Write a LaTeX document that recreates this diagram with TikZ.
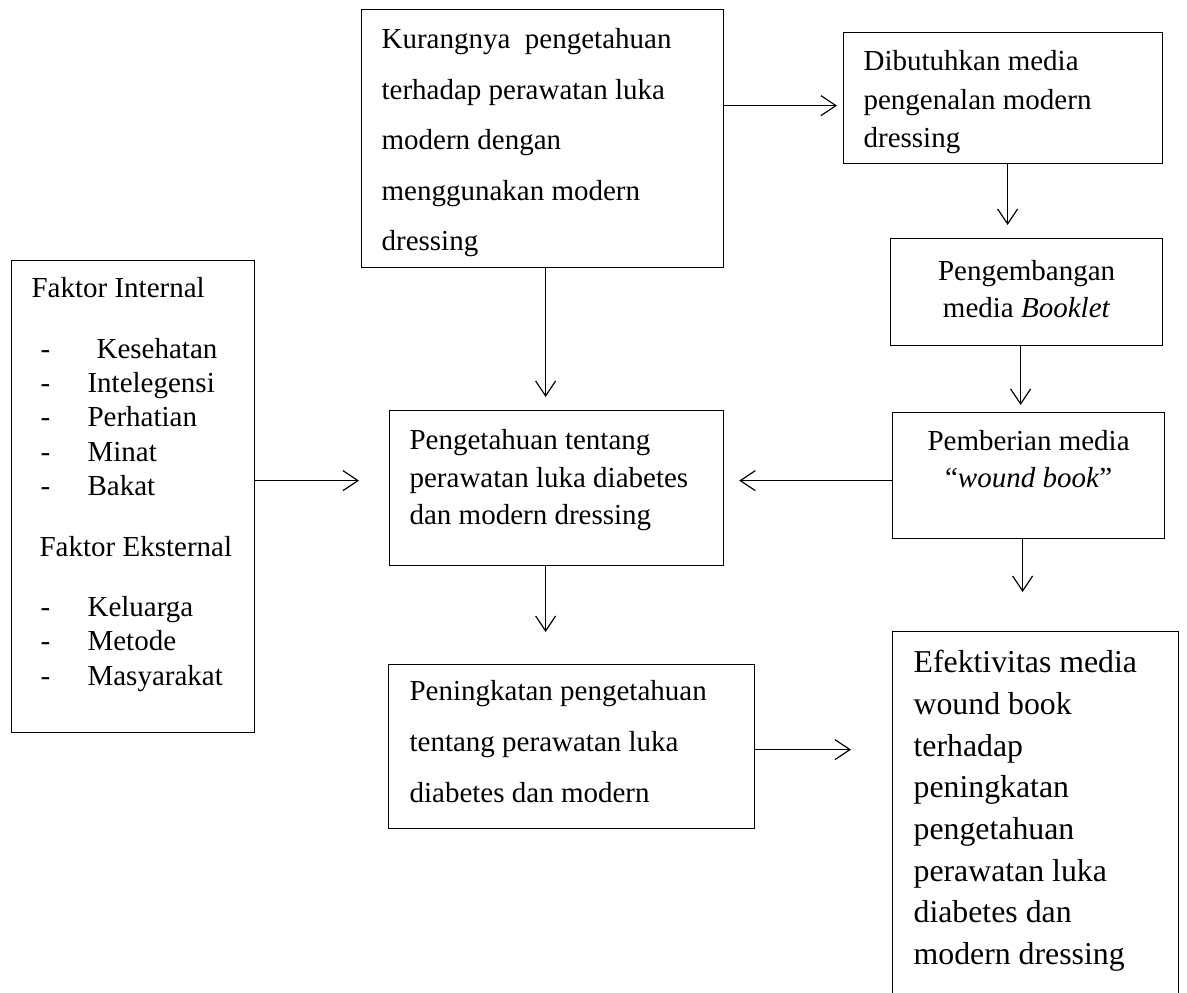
\documentclass[tikz,border=0pt]{standalone}
\usepackage{fontspec}
\setmainfont{Liberation Serif}
\usepackage{tikz}
\usetikzlibrary{arrows.meta}
\tikzset{
    flow-box/.style = {draw=black, fill=white, line width=0.6pt, rectangle, anchor=north west, inner xsep=10pt, inner ysep=0pt},
    flow-text/.style = {font=\fontsize{14.5pt}{#1}\selectfont},
    flow-arrow/.style = {draw=black, line width=0.6pt, -{Straight Barb[length=7.5pt, width=10pt]}},
}
\newcommand{\dashitem}[1]{\hspace*{4.5pt}\makebox[23.5pt][l]{-}#1}

\begin{document}
\begin{tikzpicture}[x=0.5pt, y=-0.5pt]
\path[use as bounding box, clip] (0,0) rectangle (1187,992);
\node[flow-box, flow-text=25.25pt] (kurang) at (361,9) {\begin{minipage}[t][129pt][t]{161pt}\raggedright
    \rule{0pt}{19.5pt}Kurangnya~ pengetahuan\\ terhadap perawatan luka\\ modern dengan\\ menggunakan modern\\ dressing
\end{minipage}};
\node[flow-box, flow-text=19.25pt] (butuh) at (843,32) {\begin{minipage}[t][65.5pt][t]{139.5pt}\raggedright
    \rule{0pt}{19pt}Dibutuhkan media\\ pengenalan modern\\ dressing
\end{minipage}};
\node[flow-box, flow-text=18.5pt] (kembang) at (890,238) {\begin{minipage}[t][53.5pt][t]{116pt}\centering
    \rule{0pt}{21pt}Pengembangan\\ media \textit{Booklet}
\end{minipage}};
\node[flow-box, flow-text=18.5pt] (beri) at (892,412) {\begin{minipage}[t][63pt][t]{116pt}\centering
    \rule{0pt}{19pt}Pemberian media\\ “\textit{wound book}”
\end{minipage}};
\node[flow-box, flow-text=18.75pt] (tahu) at (389,410) {\begin{minipage}[t][77.5pt][t]{147pt}\raggedright
    \rule{0pt}{19.5pt}Pengetahuan tentang\\ perawatan luka diabetes\\ dan modern dressing
\end{minipage}};
\node[flow-box, flow-text=25.5pt, inner xsep=10.5pt] (tingkat) at (388,664) {\begin{minipage}[t][82pt][t]{162pt}\raggedright
    \rule{0pt}{18pt}Peningkatan pengetahuan\\ tentang perawatan luka\\ diabetes dan modern
\end{minipage}};
\node[flow-box, flow-text=17.2pt] (faktor) at (11,260) {\begin{minipage}[t][236pt][t]{101.5pt}\raggedright
    \rule{0pt}{18.5pt}Faktor~Internal\\[13pt]
    \dashitem{\hspace{4.5pt}Kesehatan}\\
    \dashitem{Intelegensi}\\
    \dashitem{Perhatian}\\
    \dashitem{Minat}\\
    \dashitem{Bakat}\\[13pt]
    \hspace*{4pt}Faktor~Eksternal\\[13pt]
    \dashitem{Keluarga}\\
    \dashitem{Metode}\\
    \dashitem{Masyarakat}
\end{minipage}};
\node[flow-box, inner xsep=10.5pt, font=\fontsize{15.9pt}{20.85pt}\selectfont] (efektif) at (892,631) {\begin{minipage}[t][200pt][t]{122pt}\raggedright
    \rule{0pt}{20.5pt}Efektivitas media\\ wound book\\ terhadap\\ peningkatan\\ pengetahuan\\ perawatan luka\\ diabetes dan\\ modern dressing
\end{minipage}};

\draw[flow-arrow, shorten >=3pt] ([yshift=-3.75pt]butuh.west -| kurang.east) -- ([yshift=-3.75pt]butuh.west);
\draw[flow-arrow, shorten >=6.5pt] ([xshift=2.25pt]butuh.south) -- ([xshift=2.25pt]butuh.south |- kembang.north);
\draw[flow-arrow, shorten >=3.5pt] ([xshift=-3pt]kembang.south) -- ([xshift=-3pt]kembang.south |- beri.north);
\draw[flow-arrow, shorten >=6.5pt] ([xshift=1.5pt]kurang.south) -- ([xshift=1.5pt]kurang.south |- tahu.north);
\draw[flow-arrow, shorten >=7.5pt] ([yshift=3.75pt]tahu.east -| beri.west) -- ([yshift=3.75pt]tahu.east);
\draw[flow-arrow, shorten >=15pt] ([yshift=3.75pt]tahu.west -| faktor.east) -- ([yshift=3.75pt]tahu.west);
\draw[flow-arrow, shorten >=16pt] ([xshift=-5.5pt]tahu.south) -- ([xshift=-5.5pt]tahu.south |- tingkat.north);
\draw[flow-arrow, shorten >=19.5pt] ([xshift=-3pt]beri.south) -- ([xshift=-3pt]beri.south |- efektif.north);
\draw[flow-arrow, shorten >=20.5pt] ([yshift=-1.5pt]tingkat.east) -- ([yshift=-1.5pt]tingkat.east -| efektif.west);
\end{tikzpicture}
\end{document}
